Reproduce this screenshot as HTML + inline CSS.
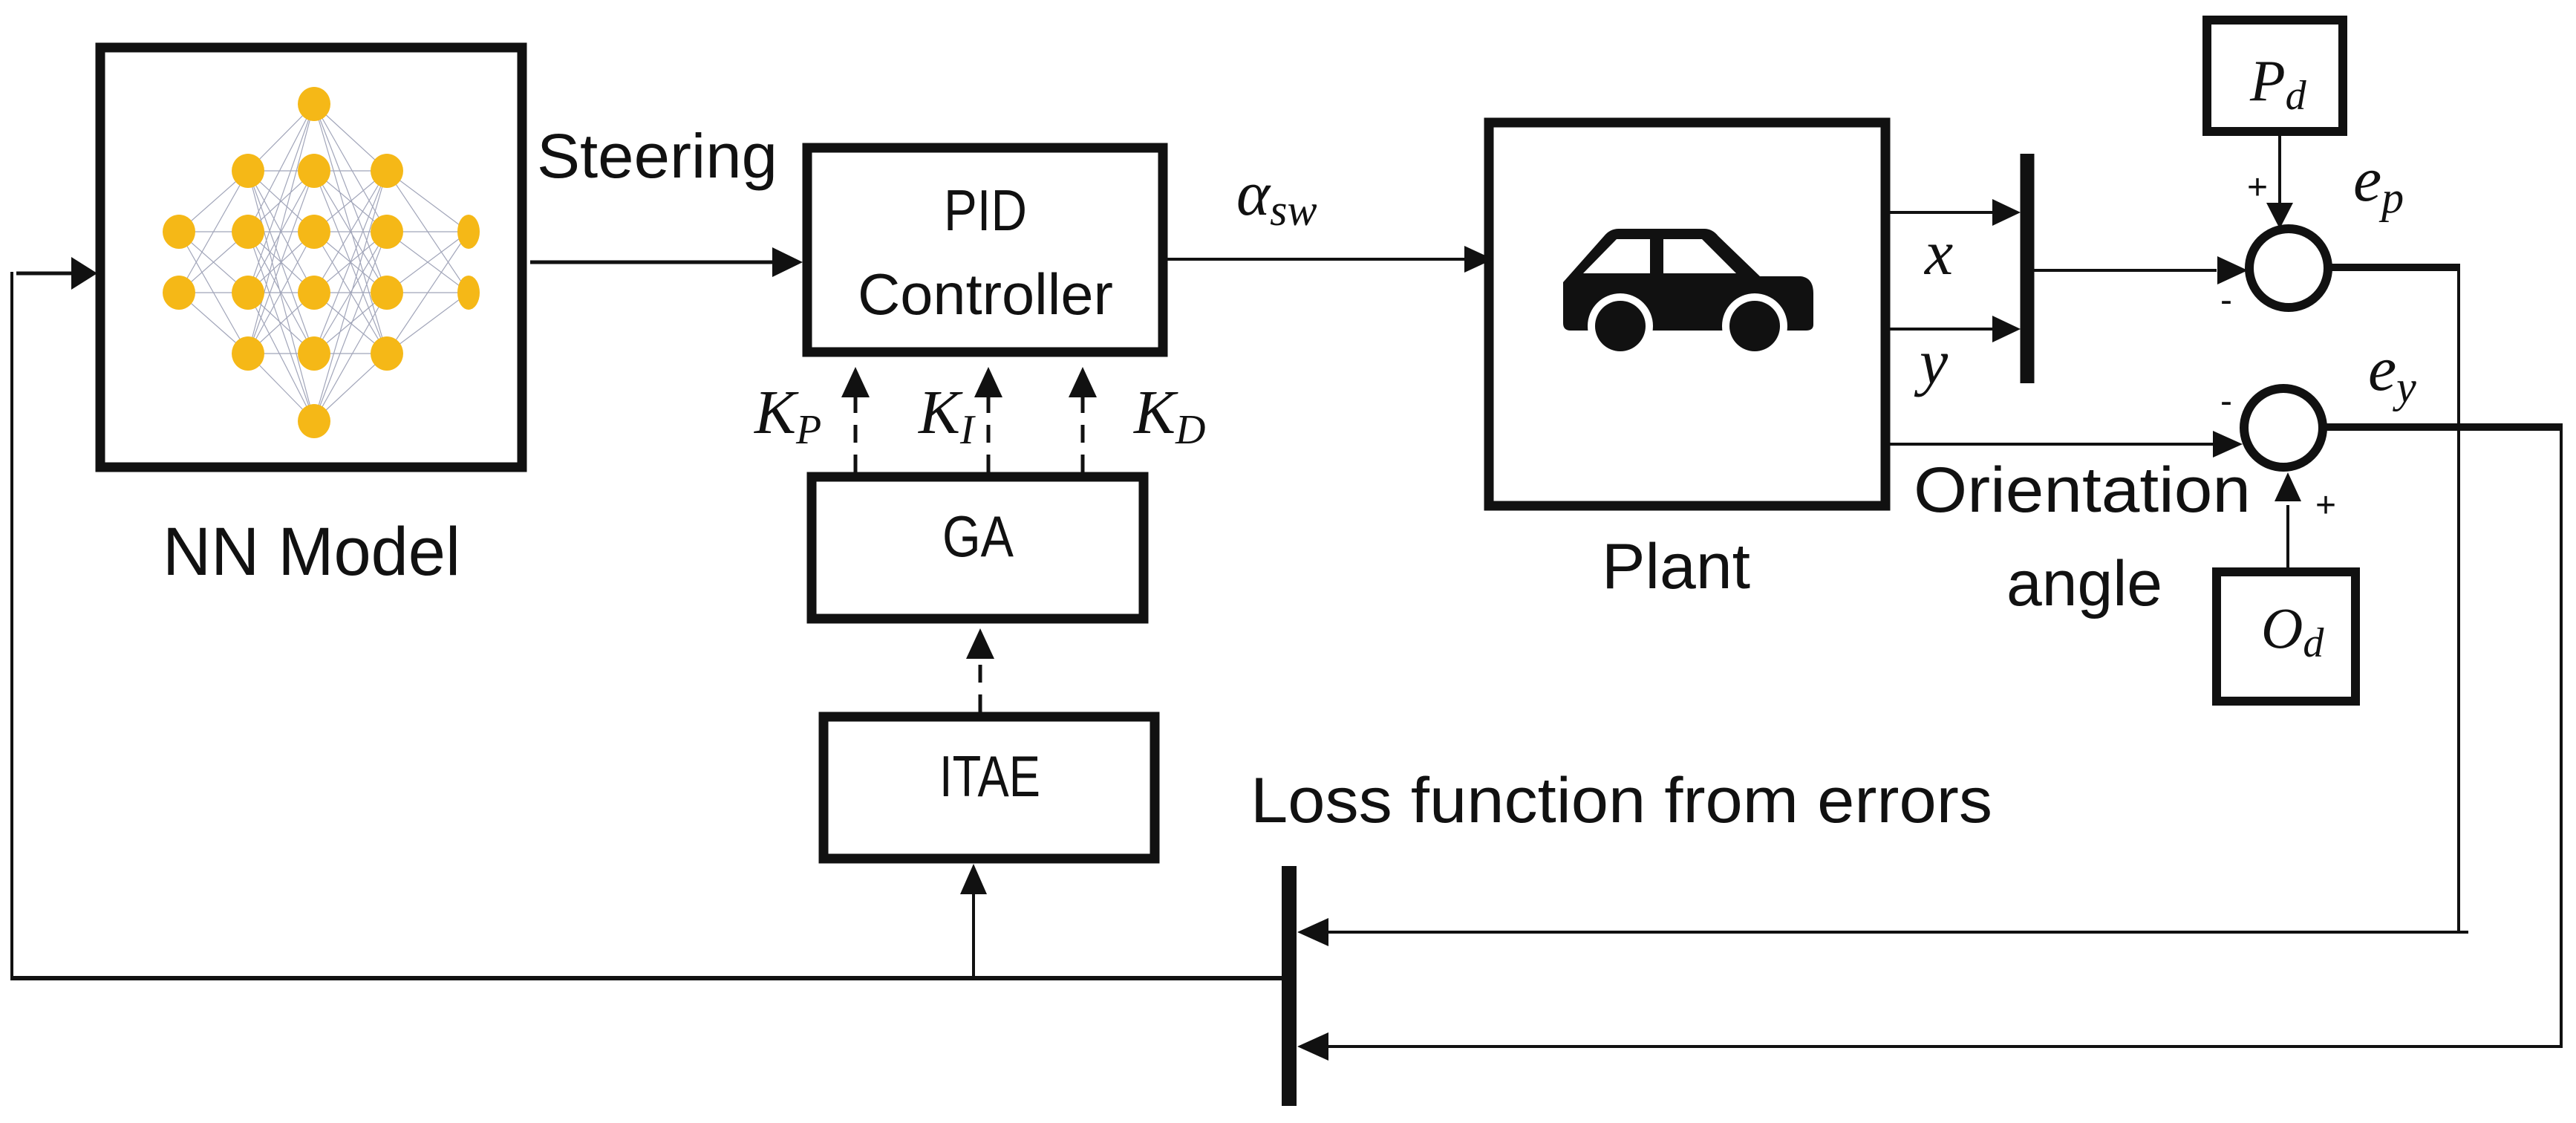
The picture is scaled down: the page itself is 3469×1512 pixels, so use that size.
<!DOCTYPE html>
<html><head><meta charset="utf-8"><style>
html,body{margin:0;padding:0;background:#fff;}
svg{display:block;}
.t{font-family:"Liberation Sans",sans-serif;fill:#111;}
.m{font-family:"Liberation Serif",serif;font-style:italic;fill:#111;}
</style></head><body>
<svg width="3469" height="1512" viewBox="0 0 3469 1512" xmlns="http://www.w3.org/2000/svg">
<rect width="3469" height="1512" fill="#fff"/>
<g stroke="#111" fill="none">
<rect x="135" y="64" width="568" height="565" stroke-width="13"/>
<rect x="1087" y="199" width="479" height="275" stroke-width="13"/>
<rect x="1093" y="642" width="447" height="191" stroke-width="13"/>
<rect x="1109" y="965" width="446" height="191" stroke-width="13"/>
<rect x="2005" y="165" width="534" height="516" stroke-width="13"/>
<rect x="2972" y="27" width="183" height="150" stroke-width="12"/>
<rect x="2985" y="770" width="187" height="174" stroke-width="12"/>
<circle cx="3082" cy="361" r="53" stroke-width="12"/>
<circle cx="3075" cy="576" r="53" stroke-width="12"/>
<line x1="714" y1="353" x2="1045" y2="353" stroke-width="5"/>
<line x1="1572" y1="349" x2="1975" y2="349" stroke-width="4"/>
<line x1="2545" y1="286" x2="2690" y2="286" stroke-width="4"/>
<line x1="2545" y1="443" x2="2690" y2="443" stroke-width="4"/>
<line x1="2545" y1="598" x2="2985" y2="598" stroke-width="4"/>
<line x1="2730" y1="364" x2="2985" y2="364" stroke-width="4"/>
<line x1="3070" y1="183" x2="3070" y2="280" stroke-width="4"/>
<line x1="3081" y1="764" x2="3081" y2="680" stroke-width="4"/>
<line x1="3135" y1="360" x2="3313" y2="360" stroke-width="10"/>
<line x1="3311" y1="360" x2="3311" y2="1257" stroke-width="4"/>
<line x1="3324" y1="1255" x2="1785" y2="1255" stroke-width="4"/>
<line x1="3128" y1="575" x2="3451" y2="575" stroke-width="10"/>
<line x1="3449" y1="575" x2="3449" y2="1411" stroke-width="4"/>
<line x1="3451" y1="1409" x2="1785" y2="1409" stroke-width="4"/>
<line x1="18" y1="1317" x2="1730" y2="1317" stroke-width="6"/>
<line x1="16" y1="366" x2="16" y2="1320" stroke-width="4"/>
<line x1="22" y1="368" x2="100" y2="368" stroke-width="5"/>
<line x1="1311" y1="1317" x2="1311" y2="1200" stroke-width="4"/>
<g stroke-width="5" stroke-dasharray="24,16">
<line x1="1152" y1="636" x2="1152" y2="532"/>
<line x1="1331" y1="636" x2="1331" y2="532"/>
<line x1="1458" y1="636" x2="1458" y2="532"/>
<line x1="1320" y1="959" x2="1320" y2="884"/>
</g>
<line x1="2730" y1="207" x2="2730" y2="516" stroke-width="19"/>
<line x1="1736" y1="1166" x2="1736" y2="1489" stroke-width="20"/>
</g>
<g fill="#111">
<polygon points="1081,353 1040,333 1040,373"/>
<polygon points="2011,349 1972,331 1972,367"/>
<polygon points="131,368 96,346 96,390"/>
<polygon points="1152,494 1133,535 1171,535"/>
<polygon points="1331,494 1312,535 1350,535"/>
<polygon points="1458,494 1439,535 1477,535"/>
<polygon points="1320,846 1301,887 1339,887"/>
<polygon points="1311,1163 1293,1204 1329,1204"/>
<polygon points="2721,286 2683,268 2683,304"/>
<polygon points="2721,443 2683,425 2683,461"/>
<polygon points="3027,364 2986,345 2986,383"/>
<polygon points="3020,598 2980,580 2980,616"/>
<polygon points="3070,308 3052,273 3088,273"/>
<polygon points="3081,636 3063,675 3099,675"/>
<polygon points="1747,1255 1789,1236 1789,1274"/>
<polygon points="1747,1409 1789,1390 1789,1428"/>
<path d="M2105,410 L2105,380 L2160,318 Q2168,308 2180,308 L2295,308 Q2306,308 2314,318 L2370,372 L2425,372 Q2442,374 2442,395 L2442,437 Q2442,445 2432,445 L2115,445 Q2105,445 2105,435 Z"/>
<path d="M2132,368 L2177,322 L2222,322 L2222,368 Z" fill="#fff"/>
<path d="M2240,322 L2292,322 L2338,368 L2240,368 Z" fill="#fff"/>
<circle cx="2182" cy="439" r="44" fill="#fff"/>
<circle cx="2363" cy="439" r="44" fill="#fff"/>
<circle cx="2182" cy="439" r="34"/>
<circle cx="2363" cy="439" r="34"/>
</g>
<g stroke="#8a8fa8" stroke-width="1.2" opacity="0.8">
<path d="M241,312 L334,230 M241,312 L334,312 M241,312 L334,394 M241,312 L334,476 M241,394 L334,230 M241,394 L334,312 M241,394 L334,394 M241,394 L334,476
M334,230 L423,140 M334,230 L423,230 M334,230 L423,312 M334,230 L423,394 M334,230 L423,476 M334,230 L423,567
M334,312 L423,140 M334,312 L423,230 M334,312 L423,312 M334,312 L423,394 M334,312 L423,476 M334,312 L423,567
M334,394 L423,140 M334,394 L423,230 M334,394 L423,312 M334,394 L423,394 M334,394 L423,476 M334,394 L423,567
M334,476 L423,140 M334,476 L423,230 M334,476 L423,312 M334,476 L423,394 M334,476 L423,476 M334,476 L423,567
M423,140 L521,230 M423,140 L521,312 M423,140 L521,394 M423,140 L521,476
M423,230 L521,230 M423,230 L521,312 M423,230 L521,394 M423,230 L521,476
M423,312 L521,230 M423,312 L521,312 M423,312 L521,394 M423,312 L521,476
M423,394 L521,230 M423,394 L521,312 M423,394 L521,394 M423,394 L521,476
M423,476 L521,230 M423,476 L521,312 M423,476 L521,394 M423,476 L521,476
M423,567 L521,230 M423,567 L521,312 M423,567 L521,394 M423,567 L521,476
M521,230 L631,312 M521,230 L631,394 M521,312 L631,312 M521,312 L631,394 M521,394 L631,312 M521,394 L631,394 M521,476 L631,312 M521,476 L631,394"/>
</g>
<g fill="#f5b817">
<ellipse cx="241" cy="312" rx="22" ry="23"/><ellipse cx="241" cy="394" rx="22" ry="23"/>
<ellipse cx="334" cy="230" rx="22" ry="23"/><ellipse cx="334" cy="312" rx="22" ry="23"/><ellipse cx="334" cy="394" rx="22" ry="23"/><ellipse cx="334" cy="476" rx="22" ry="23"/>
<ellipse cx="423" cy="140" rx="22" ry="23"/><ellipse cx="423" cy="230" rx="22" ry="23"/><ellipse cx="423" cy="312" rx="22" ry="23"/><ellipse cx="423" cy="394" rx="22" ry="23"/><ellipse cx="423" cy="476" rx="22" ry="23"/><ellipse cx="423" cy="567" rx="22" ry="23"/>
<ellipse cx="521" cy="230" rx="22" ry="23"/><ellipse cx="521" cy="312" rx="22" ry="23"/><ellipse cx="521" cy="394" rx="22" ry="23"/><ellipse cx="521" cy="476" rx="22" ry="23"/>
<ellipse cx="631" cy="312" rx="15" ry="23"/><ellipse cx="631" cy="394" rx="15" ry="23"/>
</g>
<rect x="646" y="280" width="30" height="140" fill="#fff"/>
<text class="t" x="723" y="239" font-size="84" textLength="324" lengthAdjust="spacingAndGlyphs">Steering</text>
<text class="t" x="1327" y="310" font-size="78" text-anchor="middle" textLength="112" lengthAdjust="spacingAndGlyphs">PID</text>
<text class="t" x="1327" y="423" font-size="78" text-anchor="middle" textLength="344" lengthAdjust="spacingAndGlyphs">Controller</text>
<text class="t" x="1317" y="749" font-size="78" text-anchor="middle" textLength="96" lengthAdjust="spacingAndGlyphs">GA</text>
<text class="t" x="1333" y="1072" font-size="78" text-anchor="middle" textLength="136" lengthAdjust="spacingAndGlyphs">ITAE</text>
<text class="t" x="219" y="774" font-size="92" textLength="401" lengthAdjust="spacingAndGlyphs">NN Model</text>
<text class="t" x="2257" y="792" font-size="86" text-anchor="middle" textLength="200" lengthAdjust="spacingAndGlyphs">Plant</text>
<text class="t" x="2577" y="689" font-size="86" textLength="454" lengthAdjust="spacingAndGlyphs">Orientation</text>
<text class="t" x="2702" y="815" font-size="86" textLength="210" lengthAdjust="spacingAndGlyphs">angle</text>
<text class="t" x="1684" y="1107" font-size="86" textLength="999" lengthAdjust="spacingAndGlyphs">Loss function from errors</text>
<text class="t" x="3026" y="268" font-size="48">+</text>
<text class="t" x="2990" y="420" font-size="48">-</text>
<text class="t" x="2990" y="556" font-size="48">-</text>
<text class="t" x="3118" y="696" font-size="48">+</text>
<text class="m" x="1665" y="289" font-size="86">α<tspan font-size="60" dy="14">sw</tspan></text>
<text class="m" x="1016" y="583" font-size="84">K<tspan font-size="56" dy="14">P</tspan></text>
<text class="m" x="1237" y="583" font-size="84">K<tspan font-size="56" dy="14">I</tspan></text>
<text class="m" x="1527" y="583" font-size="84">K<tspan font-size="56" dy="14">D</tspan></text>
<text class="m" x="2592" y="369" font-size="86">x</text>
<text class="m" x="2585" y="516" font-size="86">y</text>
<text class="m" x="3030" y="135" font-size="78">P<tspan font-size="56" dy="12">d</tspan></text>
<text class="m" x="3045" y="872" font-size="78">O<tspan font-size="56" dy="12">d</tspan></text>
<text class="m" x="3169" y="270" font-size="86">e<tspan font-size="60" dy="16">p</tspan></text>
<text class="m" x="3189" y="525" font-size="86">e<tspan font-size="60" dy="16">y</tspan></text>
</svg>
</body></html>
